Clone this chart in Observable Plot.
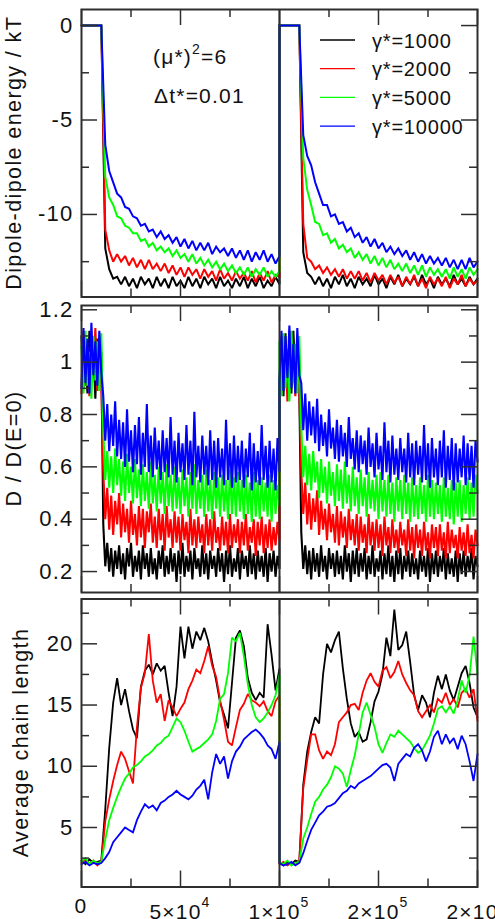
<!DOCTYPE html>
<html>
<head>
<meta charset="utf-8">
<script src="https://cdn.jsdelivr.net/npm/d3@7"></script>
<script src="https://cdn.jsdelivr.net/npm/@observablehq/plot@0.6"></script>
<style>
  html, body { margin: 0; padding: 0; background: #fff; overflow: hidden; }
  #chart svg { display: block; }
  #chart text { font-family: "Liberation Sans", Arial, Helvetica, sans-serif; letter-spacing: 1.2px; }
</style>
</head>
<body>
<div id="chart"></div>
<script>
// Shear rates of the four runs (legend order = drawing order)
const seriesNames = ["γ*=1000", "γ*=2000", "γ*=5000", "γ*=10000"];
const seriesColors = ["#000000", "#ff0000", "#00ff00", "#0000ff"];

// Time axis: two field cycles of 1e5 steps each
const cycleLength = 100000;
const coarseStep = 2000;   // sampling of energy and chain-length traces
const fineStep = 1000;     // sampling of diffusion traces
const timeMajorTicks = [0, 50000, 100000, 150000, 200000];
const timeMinorTicks = [25000, 75000, 125000, 175000];
const timeTickLabels = [["0", ""], ["5×10", "4"], ["1×10", "5"], ["2×10", "5"], ["2×10", "5"]];

// ---- Dipole-dipole energy / kT (51 samples per cycle) ----
const energyA = [
  [0,0,0,0,0,0,-11.8,-12.9,-13.4,-13.3,
   -13.7,-13.3,-13.8,-13.4,-13.9,-13.3,-13.7,-13.4,-13.9,-13.3,
   -13.8,-13.4,-13.9,-13.3,-13.8,-13.5,-13.9,-13.3,-13.8,-13.4,
   -13.9,-13.3,-13.7,-13.4,-13.9,-13.3,-13.8,-13.5,-13.9,-13.4,
   -13.8,-13.3,-13.9,-13.4,-13.8,-13.3,-13.9,-13.5,-13.8,-13.3,
   -13.7],
  [0,0,0,0,0,0,-10.8,-11.9,-12.5,-12.1,
   -12.5,-12.2,-12.7,-12.3,-12.8,-12.4,-12.9,-12.4,-12.9,-12.6,
   -13.0,-12.6,-13.1,-12.7,-13.2,-12.8,-13.3,-12.8,-13.2,-12.9,
   -13.4,-12.9,-13.3,-13.0,-13.5,-12.9,-13.4,-13.1,-13.5,-13.0,
   -13.4,-13.1,-13.5,-13.0,-13.6,-13.1,-13.5,-13.0,-13.6,-13.2,
   -13.3],
  [0,0,0,0,0,0,-8.0,-9.1,-9.5,-10.1,
   -10.2,-10.6,-10.7,-11.0,-11.0,-11.4,-11.3,-11.7,-11.5,-11.9,
   -11.7,-12.0,-11.8,-12.2,-11.9,-12.3,-12.1,-12.5,-12.1,-12.6,
   -12.3,-12.7,-12.4,-12.8,-12.5,-12.9,-12.6,-13.0,-12.7,-13.1,
   -12.8,-13.2,-12.8,-13.3,-12.9,-13.2,-12.8,-13.3,-13.0,-13.3,
   -13.0],
  [0,0,0,0,0,0,-6.3,-7.7,-8.3,-8.9,
   -9.1,-9.6,-9.7,-10.1,-10.2,-10.6,-10.5,-10.9,-10.8,-11.2,
   -10.9,-11.3,-11.1,-11.5,-11.2,-11.7,-11.3,-11.8,-11.4,-11.9,
   -11.5,-11.9,-11.5,-12.1,-11.7,-12.0,-11.8,-12.2,-11.8,-12.3,
   -11.9,-12.4,-11.9,-12.5,-12.0,-12.4,-11.9,-12.5,-12.1,-12.6,
   -12.2]
];
const energyB = [
  [0,0,0,0,0,0,-12.0,-13.1,-13.3,-13.7,
   -13.3,-13.8,-13.4,-13.9,-13.3,-13.7,-13.2,-13.8,-13.4,-13.9,
   -13.3,-13.7,-13.4,-13.8,-13.2,-13.7,-13.4,-13.9,-13.3,-13.7,
   -13.2,-13.8,-13.4,-13.7,-13.3,-13.8,-13.2,-13.7,-13.4,-13.9,
   -13.3,-13.7,-13.4,-13.8,-13.2,-13.7,-13.4,-13.8,-13.3,-13.7,
   -13.4],
  [0,0,0,0,0,0,-10.5,-12.3,-12.5,-12.9,
   -12.7,-13.1,-12.8,-13.2,-12.9,-13.3,-12.9,-13.4,-13.0,-13.4,
   -13.0,-13.5,-13.1,-13.6,-13.1,-13.5,-13.2,-13.7,-13.2,-13.6,
   -13.3,-13.8,-13.3,-13.7,-13.2,-13.8,-13.4,-13.9,-13.3,-13.7,
   -13.4,-13.8,-13.3,-13.9,-13.4,-13.7,-13.2,-13.8,-13.4,-13.7,
   -13.5],
  [0,0,0,0,0,0,-7.0,-8.7,-9.5,-10.4,
   -10.5,-11.1,-11.0,-11.5,-11.3,-11.8,-11.6,-12.0,-11.8,-12.3,
   -12.0,-12.4,-12.1,-12.6,-12.2,-12.7,-12.3,-12.8,-12.4,-12.9,
   -12.6,-13.0,-12.6,-13.1,-12.7,-13.2,-12.7,-13.3,-12.8,-13.2,
   -12.9,-13.3,-12.9,-13.4,-12.8,-13.3,-12.9,-13.4,-12.8,-13.2,
   -12.9],
  [0,0,0,0,0,0,-5.8,-6.9,-7.4,-8.3,
   -8.9,-9.5,-9.5,-10.1,-10.0,-10.5,-10.4,-10.9,-10.7,-11.2,
   -11.0,-11.5,-11.2,-11.7,-11.3,-11.8,-11.5,-12.0,-11.7,-12.1,
   -11.8,-12.2,-11.9,-12.4,-12.0,-12.5,-12.1,-12.6,-12.2,-12.6,
   -12.3,-12.7,-12.3,-12.8,-12.4,-12.9,-12.4,-12.9,-12.3,-12.8,
   -12.5]
];

// ---- D / D(E=0) (101 samples per cycle) ----
const diffusionA = [
  [1.10,.90,1.08,.88,1.12,.93,1.05,.86,1.09,.92,
   1.04,.38,.22,.31,.20,.29,.18,.28,.21,.30,
   .19,.27,.17,.29,.22,.31,.18,.26,.20,.28,
   .17,.30,.21,.27,.18,.29,.19,.25,.17,.28,
   .21,.30,.18,.26,.19,.29,.20,.27,.16,.28,
   .19,.31,.18,.26,.20,.28,.17,.29,.21,.25,
   .18,.30,.19,.27,.17,.28,.21,.26,.18,.29,
   .20,.27,.16,.28,.19,.30,.18,.25,.20,.29,
   .17,.28,.21,.26,.18,.30,.19,.27,.17,.28,
   .20,.26,.18,.29,.16,.27,.20,.28,.18,.26,
   .21],
  [.88,1.12,.91,1.06,.87,1.10,.94,1.13,.89,1.05,
   .92,.58,.40,.52,.36,.49,.34,.47,.38,.50,
   .33,.46,.35,.44,.31,.47,.34,.42,.30,.45,
   .33,.44,.29,.43,.35,.46,.31,.41,.29,.44,
   .32,.42,.28,.45,.33,.40,.29,.43,.31,.41,
   .28,.42,.32,.39,.27,.44,.30,.40,.29,.41,
   .31,.38,.27,.42,.30,.40,.28,.43,.31,.37,
   .28,.41,.30,.39,.27,.42,.29,.38,.31,.40,
   .27,.39,.30,.42,.28,.37,.31,.40,.26,.39,
   .30,.41,.27,.38,.29,.40,.28,.37,.30,.39,
   .32],
  [1.06,.88,1.12,.91,1.04,.86,1.10,.93,1.08,.89,
   1.11,.74,.55,.66,.52,.64,.50,.67,.53,.63,
   .49,.62,.47,.65,.50,.60,.46,.63,.48,.59,
   .45,.61,.47,.58,.44,.62,.46,.57,.43,.60,
   .46,.58,.42,.61,.45,.57,.43,.60,.44,.56,
   .42,.59,.45,.56,.41,.58,.44,.61,.42,.55,
   .44,.57,.41,.59,.43,.55,.40,.58,.44,.56,
   .41,.57,.43,.55,.40,.59,.42,.56,.41,.58,
   .43,.55,.40,.57,.42,.54,.39,.58,.41,.55,
   .40,.56,.43,.54,.41,.57,.39,.55,.42,.53,
   .45],
  [.90,1.13,.92,1.09,.88,1.15,.95,1.08,.91,1.12,
   .96,.87,.70,.84,.66,.80,.68,.85,.64,.78,
   .63,.77,.60,.82,.62,.74,.58,.76,.61,.79,
   .57,.73,.60,.84,.58,.72,.56,.75,.59,.70,
   .55,.74,.58,.71,.56,.79,.57,.70,.54,.73,
   .58,.69,.55,.76,.57,.70,.53,.81,.56,.68,
   .54,.72,.57,.68,.53,.74,.55,.70,.52,.71,
   .56,.67,.53,.78,.55,.69,.52,.72,.54,.68,
   .55,.70,.52,.67,.56,.73,.51,.69,.54,.66,
   .53,.76,.55,.68,.52,.70,.54,.67,.51,.71,
   .58]
];
const diffusionB = [
  [.92,1.09,.87,1.11,.90,1.06,.88,1.12,.93,1.07,
   .89,.35,.21,.30,.19,.28,.17,.29,.20,.27,
   .18,.30,.20,.26,.17,.29,.21,.27,.18,.28,
   .19,.26,.17,.30,.20,.27,.16,.28,.19,.29,
   .18,.27,.20,.29,.17,.26,.19,.30,.18,.25,
   .20,.28,.17,.27,.19,.30,.18,.26,.16,.28,
   .19,.29,.17,.26,.20,.28,.18,.27,.19,.25,
   .17,.28,.20,.26,.18,.29,.16,.27,.19,.28,
   .18,.26,.20,.29,.17,.27,.19,.25,.18,.28,
   .16,.27,.19,.28,.18,.26,.20,.29,.17,.26,
   .22],
  [.86,1.10,.90,1.08,.85,1.12,.92,1.05,.87,1.09,
   .91,.58,.42,.54,.38,.50,.36,.48,.39,.51,
   .34,.47,.36,.44,.32,.46,.35,.42,.31,.45,
   .30,.43,.33,.41,.29,.44,.32,.40,.30,.42,
   .28,.41,.31,.38,.27,.42,.30,.39,.28,.40,
   .29,.38,.26,.41,.30,.37,.27,.40,.29,.36,
   .27,.39,.30,.36,.26,.40,.28,.37,.25,.38,
   .29,.36,.26,.39,.28,.35,.25,.38,.29,.37,
   .26,.38,.28,.35,.25,.39,.27,.36,.29,.34,
   .25,.37,.28,.35,.26,.38,.27,.34,.25,.36,
   .30],
  [1.08,.87,1.11,.90,1.05,.85,1.12,.92,1.07,.88,
   1.10,.75,.56,.68,.53,.65,.51,.66,.54,.62,
   .48,.63,.50,.60,.46,.62,.49,.58,.45,.61,
   .47,.59,.44,.62,.46,.57,.43,.60,.45,.56,
   .42,.59,.45,.56,.41,.58,.44,.55,.43,.57,
   .40,.58,.43,.55,.41,.57,.42,.54,.39,.56,
   .43,.55,.40,.57,.42,.54,.39,.56,.41,.53,
   .40,.56,.42,.53,.39,.57,.41,.55,.40,.54,
   .42,.53,.39,.56,.41,.52,.40,.55,.38,.54,
   .41,.55,.39,.53,.42,.56,.40,.54,.41,.57,
   .50],
  [.93,1.12,.89,1.10,.94,1.14,.90,1.07,.88,1.13,
   .95,.92,.74,.88,.70,.85,.72,.83,.69,.86,
   .66,.80,.68,.77,.64,.82,.67,.75,.63,.78,
   .62,.76,.64,.73,.60,.79,.63,.71,.59,.74,
   .58,.72,.61,.70,.57,.75,.60,.69,.56,.73,
   .59,.68,.55,.77,.58,.70,.54,.72,.57,.67,
   .55,.71,.58,.67,.54,.73,.56,.69,.53,.70,
   .57,.68,.54,.76,.55,.69,.52,.71,.56,.67,
   .53,.70,.56,.74,.52,.68,.55,.71,.51,.69,
   .54,.67,.56,.72,.53,.69,.55,.68,.52,.70,
   .62]
];

// ---- Average chain length (51 samples per cycle) ----
const chainA = [
  [2.3,2.0,2.4,2.1,2.2,2.3,6.5,11.5,15.2,17.2,
   15.0,16.3,14.5,13.0,12.3,16.5,17.8,18.3,17.5,18.4,
   17.8,18.2,16.0,14.1,16.5,21.4,18.8,21.4,19.6,21.0,
   20.3,21.3,20.2,18.5,17.0,15.2,14.2,13.1,16.8,20.5,
   21.1,19.8,17.2,16.0,15.4,16.0,15.6,21.6,19.1,16.2,
   18.0],
  [2.1,2.4,2.0,2.3,1.9,2.2,5.5,7.3,8.8,10.1,
   11.2,10.6,9.6,8.6,13.2,16.4,17.6,20.8,17.0,15.2,
   15.9,13.7,15.4,14.8,14.1,14.7,15.2,16.3,17.0,17.9,
   17.6,18.6,19.8,18.2,17.3,15.4,13.8,12.0,11.7,13.2,
   14.6,15.1,15.9,15.4,15.2,14.9,15.3,14.5,14.1,15.3,
   15.8],
  [2.2,2.5,2.0,2.3,2.1,2.2,4.0,5.6,6.6,7.5,
   8.3,9.0,9.4,9.9,10.1,10.4,10.8,11.0,11.3,11.7,
   11.9,12.3,12.5,13.2,13.9,13.6,12.9,12.0,11.2,11.4,
   11.6,11.9,12.2,12.6,13.7,15.5,15.9,17.6,20.5,20.2,
   20.9,19.0,16.7,15.0,14.0,13.6,13.9,14.4,15.0,15.8,
   17.5],
  [2.0,2.2,1.9,2.1,2.0,2.1,2.5,3.0,3.8,4.2,
   4.6,5.0,4.8,4.6,5.6,6.3,6.9,6.6,6.8,6.4,
   7.0,7.2,7.5,7.7,8.0,7.7,7.5,7.3,7.6,8.1,
   8.4,8.9,7.3,9.5,11.0,10.2,10.8,9.0,10.4,11.2,
   11.6,12.2,12.5,12.8,13.0,12.7,12.3,11.7,11.4,10.6,
   12.0]
];
const chainB = [
  [2.1,1.9,2.2,2.0,2.3,2.2,8.5,11.2,12.8,14.0,
   13.5,17.5,20.0,19.3,20.3,21.0,18.0,15.5,13.5,12.4,
   12.8,12.0,12.2,13.6,15.3,16.1,17.5,20.5,19.0,22.8,
   19.5,19.9,21.0,18.5,15.8,14.6,15.8,15.2,14.0,16.0,
   17.4,16.3,17.5,16.2,15.4,16.5,17.6,18.2,16.8,14.8,
   14.0],
  [2.0,2.2,1.9,2.1,2.0,2.3,8.2,10.5,12.6,12.6,
   11.3,10.6,11.2,10.9,11.8,13.6,14.0,14.4,15.0,15.1,
   14.6,16.0,17.0,17.6,16.9,16.5,17.8,18.1,17.2,17.7,
   18.6,17.5,16.8,16.2,15.8,14.5,14.0,14.5,15.0,14.4,
   15.5,15.2,16.0,15.0,15.5,14.8,16.0,16.3,15.6,16.3,
   13.7],
  [2.2,2.0,2.3,1.9,2.1,2.2,4.1,5.0,6.1,7.1,
   7.5,8.1,8.5,9.1,10.0,9.8,9.4,8.3,9.7,10.9,
   12.6,14.4,15.2,14.2,13.2,11.8,11.1,11.9,12.6,12.4,
   12.9,12.6,12.3,12.0,11.5,11.1,11.3,11.9,12.5,13.5,
   14.7,14.9,14.4,14.9,14.3,15.4,17.0,16.0,17.4,20.6,
   17.5],
  [2.1,1.9,2.0,2.2,1.9,2.1,2.9,3.9,4.8,5.4,
   6.0,6.3,6.7,6.8,7.0,7.4,7.8,8.0,8.4,8.2,
   8.6,8.8,9.0,9.2,9.5,9.8,10.1,10.2,9.9,8.8,
   10.2,10.6,11.0,10.8,11.5,11.8,11.3,10.4,11.2,12.4,
   12.9,11.8,12.6,11.9,12.3,11.4,12.5,11.8,10.4,8.8,
   11.0]
];

// Axis ticks of each panel
const energyMajor = [0, -5, -10], energyMinor = [-2.5, -7.5, -12.5];
const diffusionMajor = [1.2, 1, 0.8, 0.6, 0.4, 0.2], diffusionMinor = [1.1, 0.9, 0.7, 0.5, 0.3];
const chainMajor = [5, 10, 15, 20], chainMinor = [2.5, 7.5, 12.5, 17.5, 22.5];

// Long table: one row per sample, series in drawing order
function buildRows(cyclesA, cyclesB, step) {
  const rows = [];
  seriesNames.forEach((name, s) => {
    cyclesA[s].forEach((v, i) => rows.push({series: name, t: i * step, v}));
    cyclesB[s].forEach((v, i) => rows.push({series: name, t: cycleLength + i * step, v}));
  });
  return rows;
}

const W = 495, ML = 81, MR = 18;
const INK = "#2e2e2e";
const FONT = '"Liberation Sans", Arial, Helvetica, sans-serif';

function panel(o) {
  const innerW = W - ML - MR;
  const innerH = o.height - o.marginTop - o.marginBottom;
  const tickStyle = {stroke: INK, strokeWidth: 1.5};
  const svg = Plot.plot({
    width: W, height: o.height,
    marginLeft: ML, marginRight: MR, marginTop: o.marginTop, marginBottom: o.marginBottom,
    style: {fontFamily: FONT, background: "#fff", overflow: "visible"},
    x: {domain: [0, 2 * cycleLength], axis: null},
    y: {domain: o.yDomain, axis: null},
    color: {domain: seriesNames, range: seriesColors},
    marks: [
      Plot.line(o.rows, {
        x: "t", y: "v", z: "series", stroke: "series",
        strokeWidth: o.lineWidth, strokeLinejoin: "miter", strokeMiterlimit: 2
      }),
      // inward ticks on all four sides
      Plot.tickY(o.yMajor, {y: d => d, insetRight: innerW - 16, ...tickStyle}),
      Plot.tickY(o.yMajor, {y: d => d, insetLeft: innerW - 16, ...tickStyle}),
      Plot.tickY(o.yMinor, {y: d => d, insetRight: innerW - 8, ...tickStyle}),
      Plot.tickY(o.yMinor, {y: d => d, insetLeft: innerW - 8, ...tickStyle}),
      Plot.tickX(timeMajorTicks, {x: d => d, insetTop: innerH - 16, ...tickStyle}),
      Plot.tickX(timeMajorTicks, {x: d => d, insetBottom: innerH - 16, ...tickStyle}),
      Plot.tickX(timeMinorTicks, {x: d => d, insetTop: innerH - 8, ...tickStyle}),
      Plot.tickX(timeMinorTicks, {x: d => d, insetBottom: innerH - 8, ...tickStyle}),
      // boundary between the two field cycles
      Plot.ruleX([cycleLength], {stroke: INK, strokeWidth: 2}),
      Plot.frame({stroke: INK, strokeWidth: 2}),
      Plot.text(o.yMajor, {
        y: d => d, text: d => String(d), frameAnchor: "left", textAnchor: "end",
        dx: -8, fontSize: 22, fill: "#111"
      })
    ]
  });
  // rotated axis title
  d3.select(svg).append("text")
    .attr("transform", `translate(${o.titleX},${o.marginTop + innerH / 2}) rotate(-90)`)
    .attr("text-anchor", "middle")
    .attr("font-size", 21.5)
    .attr("fill", "#111")
    .style("letter-spacing", "1.4px")
    .text(o.title);
  return svg;
}

const chart = document.getElementById("chart");

// Panel 1: dipole-dipole energy
const energySvg = panel({
  height: 300, marginTop: 9, marginBottom: 3.5,
  yDomain: [-14.37, 0.85], yMajor: energyMajor, yMinor: energyMinor,
  rows: buildRows(energyA, energyB, coarseStep), lineWidth: 2,
  title: "Dipole-dipole energy / kT", titleX: 20.5
});
chart.appendChild(energySvg);

// Parameters of the run
const e = d3.select(energySvg);
const muText = e.append("text").attr("x", 153).attr("y", 63.5).attr("text-anchor", "start")
  .attr("font-size", 21).attr("fill", "#111");
muText.append("tspan").text("(μ*)");
muText.append("tspan").attr("dy", -10).attr("font-size", 14).text("2");
muText.append("tspan").attr("dy", 10).text("=6");
e.append("text").attr("x", 154).attr("y", 103).attr("text-anchor", "start")
  .attr("font-size", 21).attr("fill", "#111").text("Δt*=0.01");

// Legend
const legend = e.append("g");
seriesNames.forEach((name, i) => {
  const y = 40 + i * 28.7;
  legend.append("line").attr("x1", 320).attr("x2", 355).attr("y1", y).attr("y2", y)
    .attr("stroke", seriesColors[i]).attr("stroke-width", 1.3);
  legend.append("text").attr("x", 372).attr("y", y + 7.5).attr("text-anchor", "start")
    .attr("font-size", 20).attr("fill", "#111").style("letter-spacing", "0.8px").text(name);
});

// Panel 2: normalised diffusion coefficient
chart.appendChild(panel({
  height: 296, marginTop: 5, marginBottom: 4,
  yDomain: [0.12, 1.2164], yMajor: diffusionMajor, yMinor: diffusionMinor,
  rows: buildRows(diffusionA, diffusionB, fineStep), lineWidth: 2.1,
  title: "D / D(E=0)", titleX: 20.5
}));

// Panel 3: average chain length, with the time axis labels
const chainSvg = panel({
  height: 323, marginTop: 2.5, marginBottom: 32.5,
  yDomain: [0.14, 23.66], yMajor: chainMajor, yMinor: chainMinor,
  rows: buildRows(chainA, chainB, coarseStep), lineWidth: 1.8,
  title: "Average chain length", titleX: 28.3
});
chart.appendChild(chainSvg);

const xScale = chainSvg.scale("x");
const c = d3.select(chainSvg);
timeMajorTicks.forEach((v, i) => {
  const [base, exp] = timeTickLabels[i];
  const t = c.append("text")
    .attr("x", xScale.apply(v))
    .attr("y", exp ? 322.5 : 317)
    .attr("text-anchor", "middle")
    .attr("font-size", 21)
    .attr("fill", "#111");
  t.append("tspan").text(base);
  if (exp) t.append("tspan").attr("dy", -12).attr("font-size", 14).text(exp);
});
</script>
</body>
</html>
